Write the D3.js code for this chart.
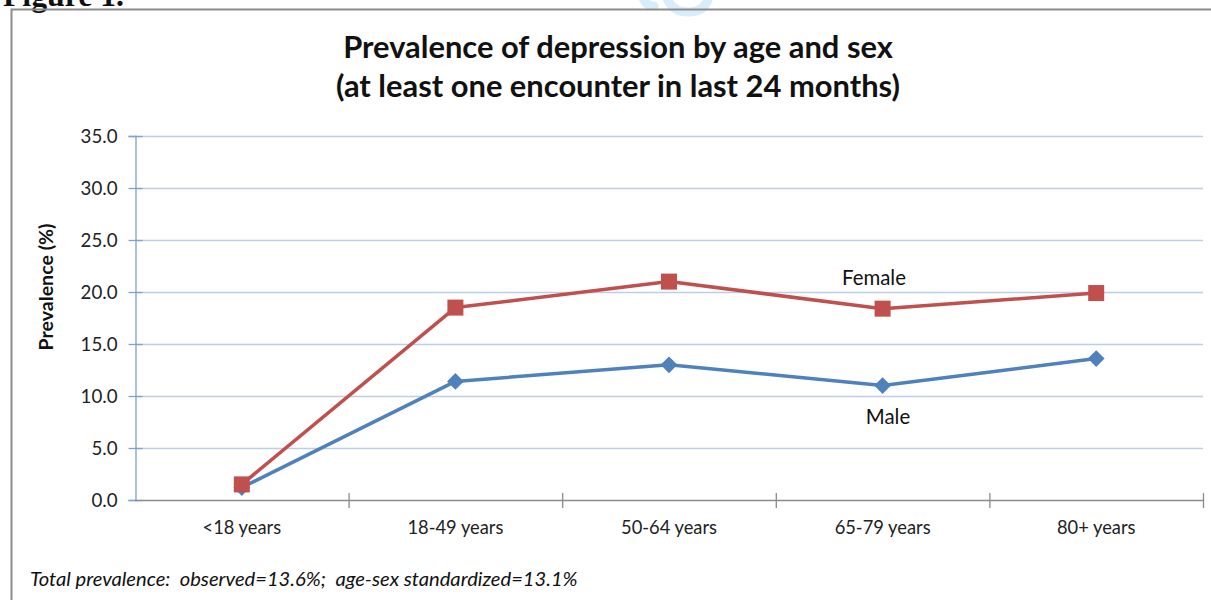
<!DOCTYPE html>
<html>
<head>
<meta charset="utf-8">
<script src="https://cdn.jsdelivr.net/npm/d3@7"></script>
<style>
  html, body { margin: 0; padding: 0; background: #fff; }
  svg { display: block; }
  text { white-space: pre; }
</style>
</head>
<body>
<svg id="chart" width="1211" height="600"></svg>
<script>
// Age groups on the x axis
const ageGroups = ["<18 years", "18-49 years", "50-64 years", "65-79 years", "80+ years"];
// Prevalence (%) per age group
const femaleValues = [1.5, 18.5, 21.0, 18.4, 19.9];
const maleValues = [1.2, 11.4, 13.0, 11.0, 13.6];
// Y axis tick values
const yTicks = [0, 5, 10, 15, 20, 25, 30, 35];

const titleLines = ["Prevalence of depression by age and sex",
                    "(at least one encounter in last 24 months)"];
const footnote = "Total prevalence:  observed=13.6%;  age-sex standardized=13.1%";

const FEMALE = "#C0504D", MALE = "#4F81BD";
const FONT = "Lato, 'Open Sans', 'Liberation Sans', sans-serif";

const svg = d3.select("#chart");

// Font size that makes a sample string span the given width
function sizeFor(str, width, weight = "normal", style = "normal", family = FONT) {
  const t = svg.append("text")
    .attr("font-family", family).attr("font-weight", weight)
    .attr("font-style", style).attr("font-size", 20).text(str);
  const w = t.node().getComputedTextLength();
  t.remove();
  return 20 * width / w;
}

const tickSize = sizeFor("35.0", 37);
const catSize = sizeFor("18-49 years", 96);
const titleSize = sizeFor(titleLines[0], 550, "bold");
const noteSize = sizeFor(footnote, 548, "normal", "italic");
const axisTitleSize = sizeFor("Prevalence (%)", 127, "bold");
const seriesSize = sizeFor("Female", 64);

// Faint blue emblem peeking in at the top
svg.append("path")
  .attr("d", "M643,-2 Q647,7 654,6 M666,-4 Q672,13 690,12 Q706,11 709,-4")
  .attr("fill", "none").attr("stroke", "#d6edfa").attr("stroke-width", 9)
  .attr("stroke-linecap", "round");

// Figure caption, partly above the page edge
const serif = "'Liberation Serif', 'DejaVu Serif', serif";
svg.append("text")
  .attr("x", 3).attr("y", 6)
  .attr("font-family", serif)
  .attr("font-weight", "bold").attr("font-size", sizeFor("Figure 1.", 121, "bold", "normal", serif))
  .attr("fill", "#111")
  .text("Figure 1.");

// Chart frame
svg.append("rect")
  .attr("x", 11.5).attr("y", 9.5).attr("width", 1230).attr("height", 620)
  .attr("fill", "none").attr("stroke", "#8c8c8c").attr("stroke-width", 2);

const margin = { left: 135, right: 1203, top: 136, bottom: 500 };

const x = d3.scaleBand().domain(ageGroups).range([margin.left, margin.right]).padding(0);
const y = d3.scaleLinear().domain([0, 35]).range([margin.bottom, margin.top]);

// Horizontal gridlines
svg.append("g").selectAll("line")
  .data(yTicks.filter(d => d > 0))
  .join("line")
  .attr("x1", margin.left).attr("x2", margin.right)
  .attr("y1", d => y(d) + 0.5).attr("y2", d => y(d) + 0.5)
  .attr("stroke", "#bccfe6").attr("stroke-width", 1.3);

// Y axis
const yAxis = svg.append("g")
  .attr("transform", `translate(${margin.left + 0.5},0)`)
  .call(d3.axisLeft(y).tickValues(yTicks).tickFormat(d3.format(".1f")).tickSize(7).tickPadding(11));
yAxis.select(".domain").attr("stroke", "#7ea3cf").attr("stroke-width", 1.3);
yAxis.selectAll(".tick line").attr("stroke", "#7ea3cf").attr("stroke-width", 1.3)
  .attr("x2", -7).attr("x1", 7);
yAxis.selectAll(".tick text")
  .attr("x", -18)
  .attr("font-family", FONT).attr("font-size", tickSize).attr("fill", "#222");

// X axis with ticks at category boundaries
const boundaries = ageGroups.map(g => x(g)).concat([margin.right]);
const xAxisG = svg.append("g");
xAxisG.append("line")
  .attr("x1", margin.left).attr("x2", margin.right)
  .attr("y1", margin.bottom + 0.5).attr("y2", margin.bottom + 0.5)
  .attr("stroke", "#8c8c8c").attr("stroke-width", 1.5);
xAxisG.selectAll("line.tick")
  .data(boundaries.slice(1))
  .join("line").attr("class", "tick")
  .attr("x1", d => d + 0.5).attr("x2", d => d + 0.5)
  .attr("y1", margin.bottom - 7).attr("y2", margin.bottom + 8)
  .attr("stroke", "#8c8c8c").attr("stroke-width", 1.3);
xAxisG.selectAll("text")
  .data(ageGroups)
  .join("text")
  .attr("x", d => x(d) + x.bandwidth() / 2)
  .attr("y", 534)
  .attr("text-anchor", "middle")
  .attr("font-family", FONT).attr("font-size", catSize).attr("fill", "#222")
  .text(d => d);

// Axis title
svg.append("text")
  .attr("transform", "translate(53,287) rotate(-90)")
  .attr("text-anchor", "middle")
  .attr("font-family", FONT).attr("font-weight", "bold").attr("font-size", axisTitleSize)
  .attr("fill", "#111")
  .text("Prevalence (%)");

// Series lines
const cx = d => x(d) + x.bandwidth() / 2;
const line = d3.line().x(d => cx(d.g)).y(d => y(d.v));
const femaleData = ageGroups.map((g, i) => ({ g, v: femaleValues[i] }));
const maleData = ageGroups.map((g, i) => ({ g, v: maleValues[i] }));

svg.append("path").datum(maleData)
  .attr("d", line).attr("fill", "none")
  .attr("stroke", MALE).attr("stroke-width", 3.5).attr("stroke-linejoin", "round");
svg.append("path").datum(femaleData)
  .attr("d", line).attr("fill", "none")
  .attr("stroke", FEMALE).attr("stroke-width", 3.5).attr("stroke-linejoin", "round");

// Male markers: diamonds
svg.append("g").selectAll("path")
  .data(maleData).join("path")
  .attr("transform", d => `translate(${cx(d.g)},${y(d.v)}) rotate(45)`)
  .attr("d", d3.symbol(d3.symbolSquare, 140))
  .attr("fill", MALE);

// Female markers: squares
svg.append("g").selectAll("rect")
  .data(femaleData).join("rect")
  .attr("x", d => cx(d.g) - 8).attr("y", d => y(d.v) - 8)
  .attr("width", 16).attr("height", 16)
  .attr("fill", FEMALE);

// Series labels
svg.append("text").attr("x", 874).attr("y", 285).attr("text-anchor", "middle")
  .attr("font-family", FONT).attr("font-size", seriesSize).attr("fill", "#111").text("Female");
svg.append("text").attr("x", 888).attr("y", 424).attr("text-anchor", "middle")
  .attr("font-family", FONT).attr("font-size", seriesSize).attr("fill", "#111").text("Male");

// Title
svg.append("g").selectAll("text")
  .data(titleLines).join("text")
  .attr("x", 618).attr("y", (d, i) => 58 + i * 39)
  .attr("text-anchor", "middle")
  .attr("font-family", FONT).attr("font-weight", "bold").attr("font-size", titleSize)
  .attr("fill", "#111")
  .text(d => d);

// Footnote
svg.append("text")
  .attr("x", 30).attr("y", 586)
  .attr("font-family", FONT).attr("font-style", "italic").attr("font-size", noteSize)
  .attr("fill", "#111")
  .text(footnote);
</script>
</body>
</html>
